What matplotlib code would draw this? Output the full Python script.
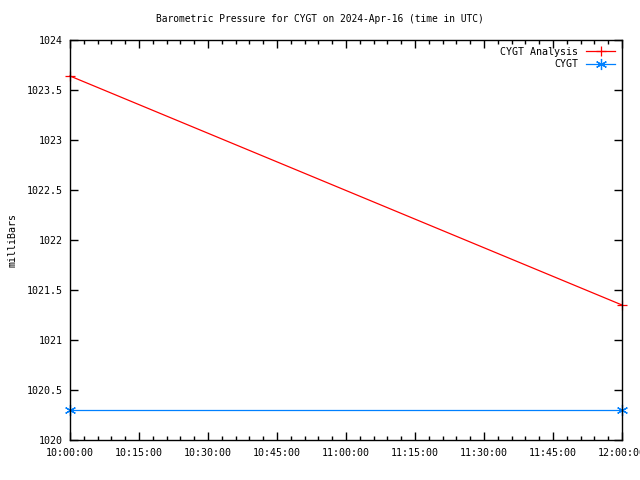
import datetime as dt
import matplotlib
matplotlib.use('Agg')
import matplotlib.pyplot as plt
import matplotlib.dates as mdates

plt.rcParams['font.family'] = 'DejaVu Sans Mono'
plt.rcParams['font.size'] = 7.2

# data
analysis_times = ['10:00:00', '12:00:00']
analysis_vals = [1023.64, 1021.35]
obs_times = ['10:00:00', '12:00:00']
obs_vals = [1020.3, 1020.3]

day = dt.date(2024, 4, 16)
def to_dt(s):
	return dt.datetime.combine(day, dt.datetime.strptime(s, '%H:%M:%S').time())

fig = plt.figure(figsize=(6.4, 4.8), dpi=100)
ax = fig.add_axes([70/640, 40/480, 552/640, 400/480])

ax.plot([to_dt(t) for t in analysis_times], analysis_vals, color='#ff0000', lw=0.9,
	marker='+', ms=7, mew=0.9, label='CYGT Analysis', clip_on=False)
ax.plot([to_dt(t) for t in obs_times], obs_vals, color='#0080ff', lw=0.9,
	marker=(6, 2, 0), ms=8, mew=0.9, label='CYGT', clip_on=False)

ax.set_xlim(to_dt('10:00:00'), to_dt('12:00:00'))
ax.set_ylim(1020, 1024)
ax.set_yticks([1020, 1020.5, 1021, 1021.5, 1022, 1022.5, 1023, 1023.5, 1024])
ax.set_yticklabels(['1020', '1020.5', '1021', '1021.5', '1022', '1022.5', '1023', '1023.5', '1024'])
ax.xaxis.set_major_locator(mdates.MinuteLocator(byminute=[0, 15, 30, 45]))
ax.xaxis.set_minor_locator(mdates.MinuteLocator(byminute=range(0, 60, 3)))
ax.xaxis.set_major_formatter(mdates.DateFormatter('%H:%M:%S'))
ax.tick_params(which='both', direction='in', top=True, right=True, width=1)
ax.tick_params(axis='x', which='major', length=6, pad=6)
ax.tick_params(axis='y', which='major', length=6, pad=5)
ax.tick_params(which='minor', length=3)
for s in ax.spines.values():
	s.set_linewidth(1)

ax.set_ylabel('milliBars')
ax.yaxis.set_label_coords(-52/552, 0.5)
fig.text(0.5, 1 - 19/480, 'Barometric Pressure for CYGT on 2024-Apr-16 (time in UTC)',
	ha='center', va='center', fontsize=6.9)

leg = ax.legend(loc='upper right', frameon=False, markerfirst=False, handlelength=2.9,
	borderaxespad=0.5, borderpad=0.2, labelspacing=0.25, handletextpad=0.8)

fig.savefig('out.png', dpi=100)
